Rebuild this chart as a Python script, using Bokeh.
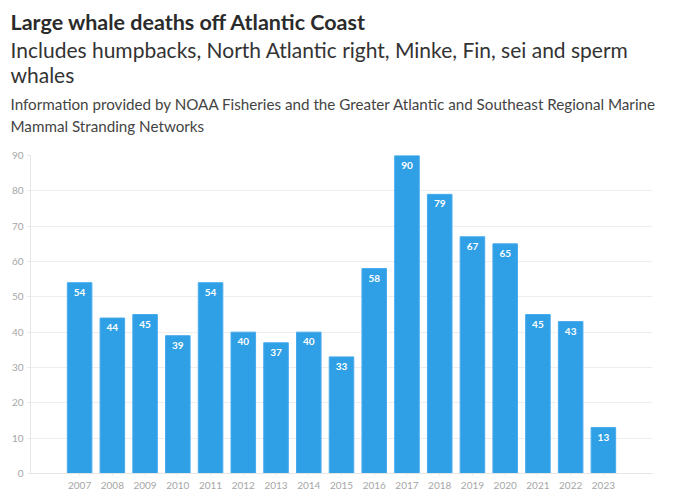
from bokeh.plotting import figure
from bokeh.models import ColumnDataSource, Title, FixedTicker, LabelSet
from bokeh.core.properties import value
from bokeh.embed import file_html
from bokeh.resources import INLINE

# whale deaths per year
years = [2007, 2008, 2009, 2010, 2011, 2012, 2013, 2014, 2015,
         2016, 2017, 2018, 2019, 2020, 2021, 2022, 2023]
deaths = [54, 44, 45, 39, 54, 40, 37, 40, 33, 58, 90, 79, 67, 65, 45, 43, 13]
y_ticks = [0, 10, 20, 30, 40, 50, 60, 70, 80, 90]

FONT = "Lato"

source = ColumnDataSource(dict(year=years, deaths=deaths,
                               label=[str(d) for d in deaths]))

p = figure(width=664, height=491, x_range=(2005.5, 2024.5), y_range=(0, 90),
           output_backend="svg", toolbar_location=None,
           min_border_left=30, min_border_right=12, min_border_bottom=0,
           min_border_top=0)
p.outline_line_color = None

p.vbar(x="year", top="deaths", width=0.75, source=source,
       fill_color="#2f9fe6", line_color="#47abee", line_width=1)

labels = LabelSet(x="year", y="deaths", text="label", source=source,
                  y_offset=-6, text_align="center", text_baseline="top",
                  text_color="white", text_font=value(FONT),
                  text_font_style="bold", text_font_size="10px")
p.add_layout(labels)

# header lines, added from the plot upwards
head = [
    (" ", "2px", "normal", "#444444", 16),
    ("Mammal Stranding Networks", "15.2px", "normal", "#444444", 1),
    ("Information provided by NOAA Fisheries and the Greater Atlantic and Southeast Regional Marine", "15.2px", "normal", "#444444", 4),
    ("whales", "21px", "normal", "#333333", 7),
    ("Includes humpbacks, North Atlantic right, Minke, Fin, sei and sperm", "21px", "normal", "#333333", -11),
    ("Large whale deaths off Atlantic Coast", "21.5px", "bold", "#2b2b2b", 12),
]
for txt, size, style, col, sb in head:
    p.add_layout(Title(text=txt, text_font=FONT, text_font_size=size,
                       text_font_style=style, text_color=col, align="left",
                       offset=-20, standoff=sb), "above")

p.xaxis.ticker = FixedTicker(ticks=years)
p.yaxis.ticker = FixedTicker(ticks=y_ticks)
p.xgrid.grid_line_color = None
p.ygrid.grid_line_color = "#eeeeee"

for ax in (p.xaxis, p.yaxis):
    ax.axis_line_color = "#e6e6e6"
    ax.major_tick_line_color = "#e6e6e6"
    ax.minor_tick_line_color = None
    ax.major_tick_out = 3
    ax.major_tick_in = 0
    ax.major_label_text_font = FONT
    ax.major_label_text_font_size = "10px"
    ax.major_label_text_color = "#a6a6a6"
    ax.major_label_standoff = 4
p.xaxis.major_label_standoff = 6
p.xaxis.major_tick_out = 2

open("out.html", "w").write(file_html(p, INLINE))
